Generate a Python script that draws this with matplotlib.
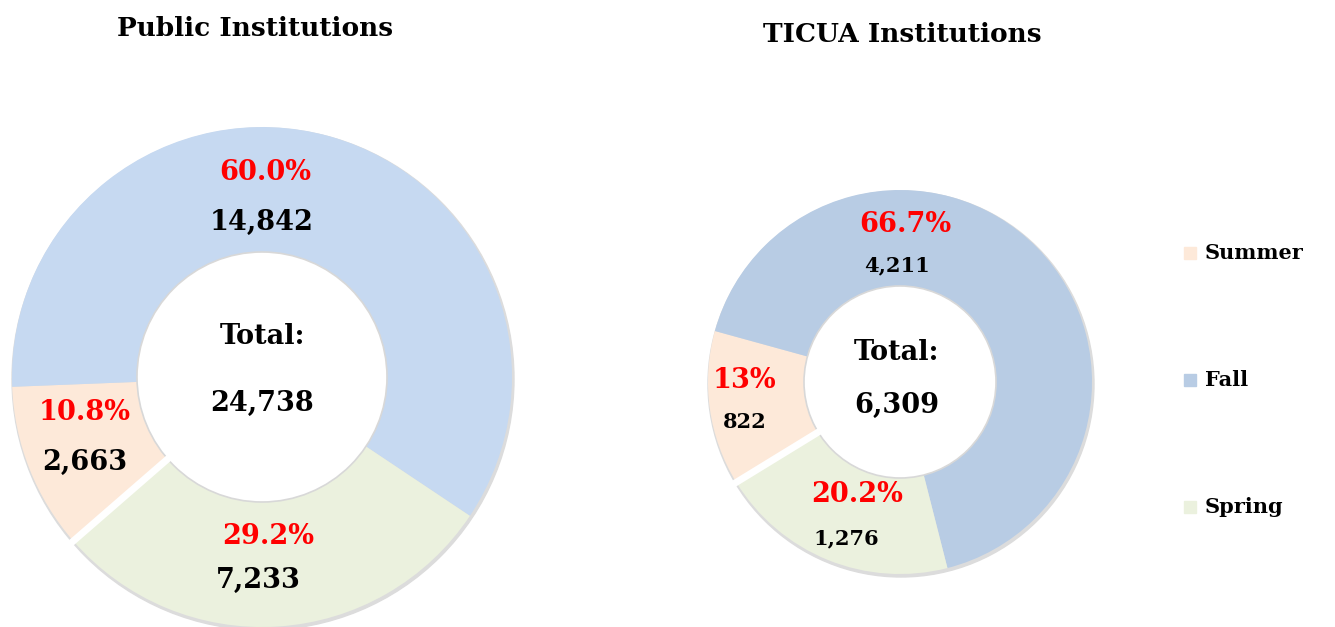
import numpy as np
import matplotlib.pyplot as plt
from matplotlib.patches import Circle, Rectangle

plt.rcParams['font.family'] = 'DejaVu Serif'
plt.rcParams['font.weight'] = 'bold'

# data
seasons = ['Summer', 'Fall', 'Spring']
public_vals = [2663, 14842, 7233]
public_pct = ['10.8%', '60.0%', '29.2%']
ticua_vals = [822, 4211, 1276]
ticua_pct = ['13%', '66.7%', '20.2%']

col_summer = '#FDE9D9'
col_spring = '#EBF1DE'
col_fall_pub = '#C6D9F1'
col_fall_tic = '#B8CCE4'

W, H = 1335, 627
fig = plt.figure(figsize=(W / 100, H / 100), dpi=100)
ax = fig.add_axes([0, 0, 1, 1])


def donut(ax, vals, colors, cx, cy, R, start):
    # faint shadow under the ring
    ax.add_patch(Circle((cx + 1, H - cy - 2), R + 1, color='#dcdcdc', zorder=0))
    wedges, _ = ax.pie(vals, colors=colors, startangle=start, counterclock=False,
                       radius=R, center=(cx, H - cy),
                       wedgeprops=dict(width=R / 2, edgecolor='none'))
    ax.add_patch(Circle((cx, H - cy), R / 2, facecolor='white',
                        edgecolor='#d8d8d8', lw=1.2, zorder=3))
    # white gap between spring and summer
    a = np.deg2rad(start)
    ax.plot([cx + (R / 2 - 2) * np.cos(a), cx + (R + 4) * np.cos(a)],
            [H - cy + (R / 2 - 2) * np.sin(a), H - cy + (R + 4) * np.sin(a)],
            color='white', lw=5, solid_capstyle='butt', zorder=4)
    return wedges


def txt(x, y, s, size, color='black'):
    ax.text(x, H - y, s, ha='center', va='center', fontsize=size,
            color=color, fontweight='bold', zorder=5)


donut(ax, public_vals, [col_summer, col_fall_pub, col_spring], 262, 377, 250, 221)
donut(ax, ticua_vals, [col_summer, col_fall_tic, col_spring], 900, 382, 192, 211.5)

big = 19.5
small = 15

# public labels
txt(255, 28, 'Public Institutions', 19)
txt(265, 172, public_pct[1], big, 'red')
txt(262, 222, f'{public_vals[1]:,}', big)
txt(85, 412, public_pct[0], big, 'red')
txt(85, 462, f'{public_vals[0]:,}', big)
txt(268, 536, public_pct[2], big, 'red')
txt(258, 580, f'{public_vals[2]:,}', big)
txt(262, 336, 'Total:', big)
txt(262, 403, f'{sum(public_vals):,}', big)

# TICUA labels
txt(902, 35, 'TICUA Institutions', 19)
txt(905, 225, ticua_pct[1], big, 'red')
txt(897, 265, f'{ticua_vals[1]:,}', small)
txt(745, 380, ticua_pct[0], big, 'red')
txt(745, 422, f'{ticua_vals[0]:,}', small)
txt(857, 495, ticua_pct[2], big, 'red')
txt(846, 538, f'{ticua_vals[2]:,}', small)
txt(897, 353, 'Total:', big)
txt(897, 405, f'{sum(ticua_vals):,}', big)

# legend
leg_y = [253, 380, 507]
for name, c, y in zip(seasons, [col_summer, col_fall_tic, col_spring], leg_y):
    ax.add_patch(Rectangle((1184, H - y - 6), 12, 12, color=c, zorder=5))
    ax.text(1205, H - y, name, ha='left', va='center', fontsize=15,
            fontweight='bold', zorder=5)

ax.set_xlim(0, W)
ax.set_ylim(0, H)
ax.set_aspect('equal')
ax.set_axis_off()

plt.savefig('out.png', dpi=100)
